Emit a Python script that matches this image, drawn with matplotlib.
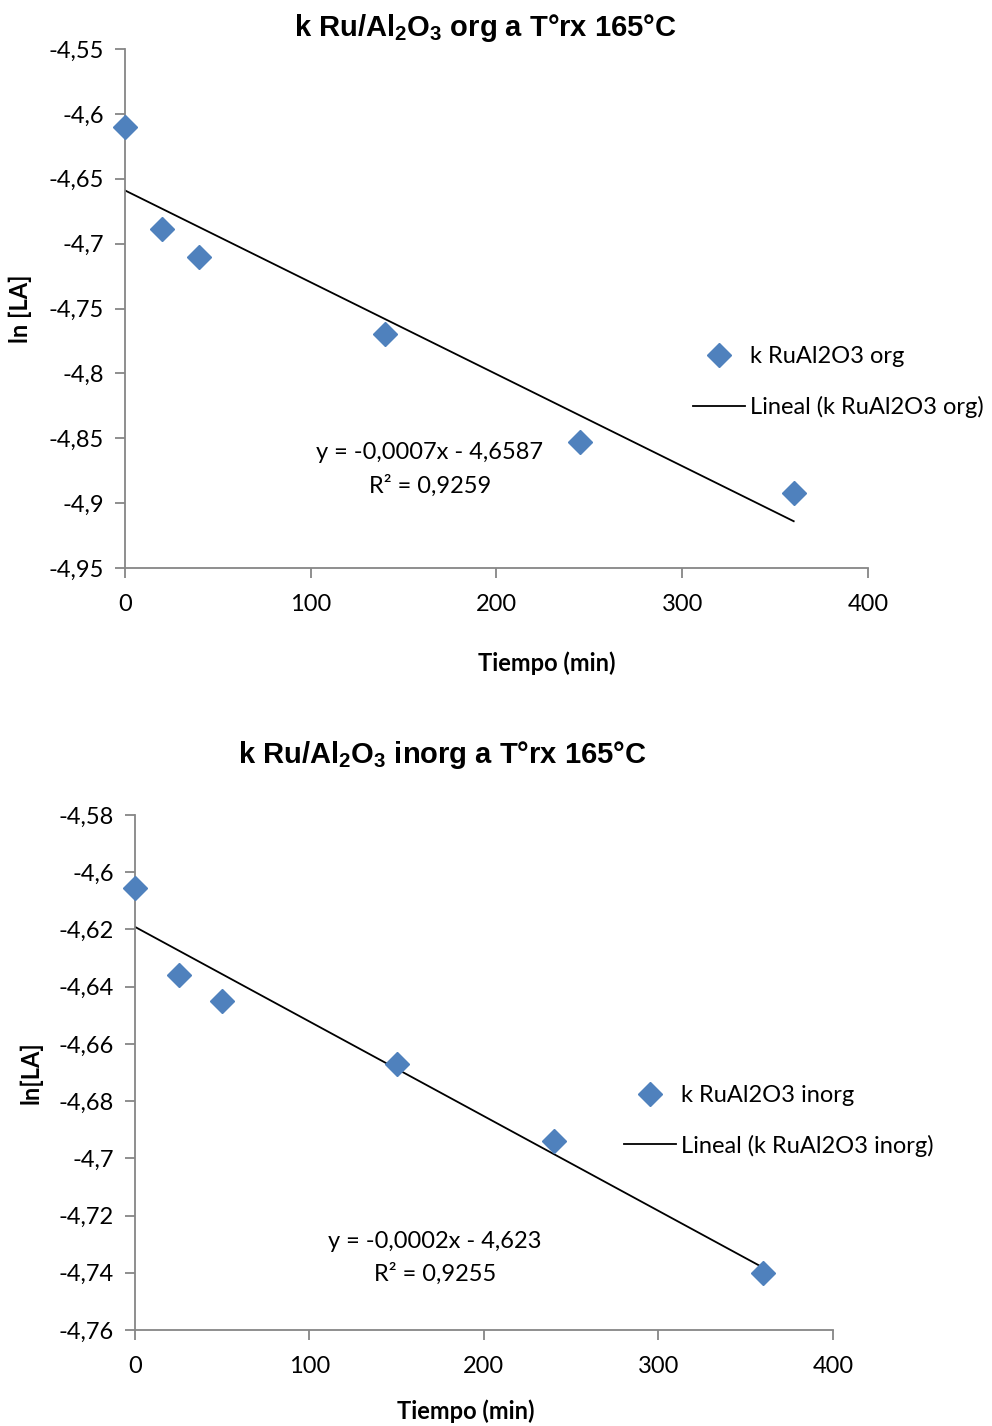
import matplotlib
matplotlib.use("Agg")
import matplotlib.pyplot as plt
import numpy as np

plt.rcParams['font.family'] = ['Lato', 'DejaVu Sans']

# top chart: organic precursor
t_org = np.array([0, 20, 40, 140, 245, 360])
ln_org = np.array([-4.610, -4.689, -4.710, -4.770, -4.853, -4.892])
eq_org = "y = -0,0007x - 4,6587\nR² = 0,9259"

# bottom chart: inorganic precursor
t_inorg = np.array([0, 25, 50, 150, 240, 360])
ln_inorg = np.array([-4.6055, -4.636, -4.645, -4.667, -4.694, -4.740])
eq_inorg = "y = -0,0002x - 4,623\nR² = 0,9255"

blue = '#4F81BD'
gray = '#868686'

fig = plt.figure(figsize=(9.92, 14.26), dpi=100)
ax1 = fig.add_axes([0.126, 0.6017, 0.749, 0.3639])
ax2 = fig.add_axes([0.136, 0.0673, 0.7036, 0.3612])


def comma(v, pos):
    s = ('%.2f' % v).rstrip('0').rstrip('.')
    return s.replace('.', ',')


def style(ax, ylim, yticks):
    ax.set_xlim(0, 400)
    ax.set_ylim(*ylim)
    ax.set_xticks([0, 100, 200, 300, 400])
    ax.set_yticks(yticks)
    ax.yaxis.set_major_formatter(plt.FuncFormatter(comma))
    for s in ['top', 'right']:
        ax.spines[s].set_visible(False)
    for s in ['left', 'bottom']:
        ax.spines[s].set_color(gray)
        ax.spines[s].set_linewidth(1.3)
    ax.tick_params(direction='out', length=7, width=1.3, color=gray,
                   labelsize=17, pad=8)
    ax.tick_params(axis='x', pad=12)


def draw(ax, t, y, name, eq):
    ax.plot(t, y, 'D', color=blue, markersize=12, label='k RuAl2O3 ' + name,
            clip_on=False, zorder=3)
    m, b = np.polyfit(t, y, 1)
    xx = np.array([t.min(), t.max()])
    ax.plot(xx, m * xx + b, color='black', linewidth=1.3,
            label='Lineal (k RuAl2O3 ' + name + ')')


draw(ax1, t_org, ln_org, 'org', eq_org)
style(ax1, (-4.95, -4.55), np.arange(-4.95, -4.549, 0.05))
ax1.set_title(r'k Ru/Al$_\mathregular{2}$O$_\mathregular{3}$ org a T°rx 165°C',
              fontsize=21, fontweight='bold', family='Liberation Sans', pad=0,
              x=0.485, y=1.025)
ax1.set_ylabel('ln [LA]', fontsize=17, fontweight='bold', labelpad=12)
ax1.set_xlabel('Tiempo (min)', fontsize=17, fontweight='bold')
ax1.xaxis.set_label_coords(0.567, -0.16)
ax1.text(0.41, 0.19, eq_org, transform=ax1.transAxes, ha='center', va='center',
         fontsize=17, linespacing=1.6)
ax1.legend(loc='center left', bbox_to_anchor=(0.677, 0.732),
           bbox_transform=fig.transFigure, frameon=False, fontsize=17,
           handlelength=2.2, handletextpad=0.2, labelspacing=1.2)

draw(ax2, t_inorg, ln_inorg, 'inorg', eq_inorg)
style(ax2, (-4.76, -4.58), np.arange(-4.76, -4.579, 0.02))
ax2.set_title(r'k Ru/Al$_\mathregular{2}$O$_\mathregular{3}$ inorg a T°rx 165°C',
              fontsize=21, fontweight='bold', family='Liberation Sans', pad=0,
              x=0.44, y=1.1)
ax2.set_ylabel('ln[LA]', fontsize=17, fontweight='bold', labelpad=12)
ax2.set_xlabel('Tiempo (min)', fontsize=17, fontweight='bold')
ax2.xaxis.set_label_coords(0.474, -0.135)
ax2.text(0.43, 0.14, eq_inorg, transform=ax2.transAxes, ha='center', va='center',
         fontsize=17, linespacing=1.6)
ax2.legend(loc='center left', bbox_to_anchor=(0.608, 0.214),
           bbox_transform=fig.transFigure, frameon=False, fontsize=17,
           handlelength=2.2, handletextpad=0.2, labelspacing=1.2)

fig.savefig('out.png', dpi=100)
